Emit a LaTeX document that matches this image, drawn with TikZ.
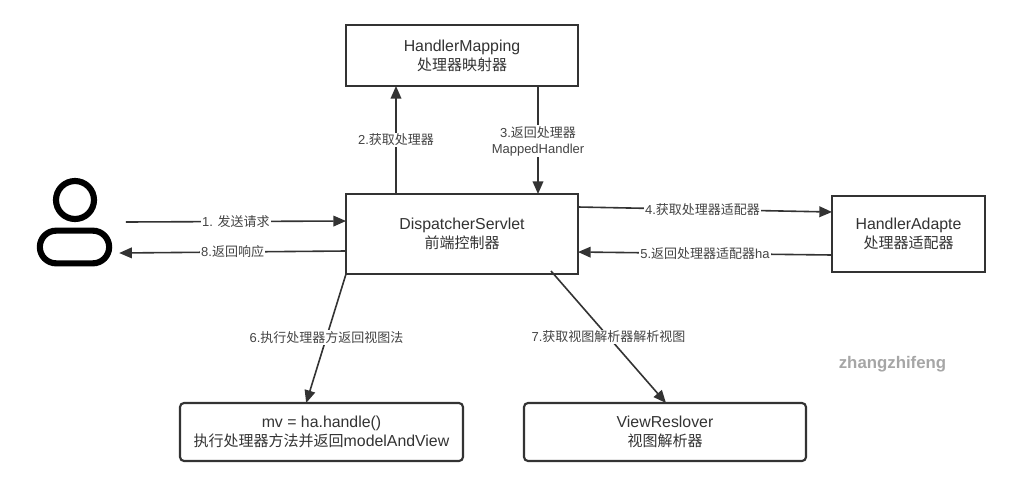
\documentclass[tikz,border=0pt]{standalone}
\usepackage{fontspec}
\usetikzlibrary{arrows.meta,shapes.misc}
\setmainfont{Liberation Sans}
\newfontfamily\cjk{Noto Sans CJK SC}
\newcommand{\boxcjk}[1]{{\cjk\fontsize{11.25}{14.2}\selectfont #1}}
\definecolor{ink}{HTML}{333333}
\definecolor{labelink}{HTML}{444444}
\definecolor{markgrey}{HTML}{A6A6A6}
\tikzset{
  box/.style={draw=ink,line width=1.6pt,fill=white,inner sep=0pt,outer sep=0pt,align=center,
    text=ink,font=\fontsize{11.9}{14.2}\selectfont},
  roundbox/.style={box,rounded corners=3pt},
  flow/.style={draw=ink,line width=1.2pt,-{Triangle[length=9.5pt,width=8pt]}},
  flowlabel/.style={fill=white,inner xsep=1pt,inner ysep=1pt,align=center,text=labelink,
    font=\fontsize{9.75}{12}\selectfont},
  figure/.style={draw=black,line width=4.6pt,inner sep=0pt,outer sep=0pt}
}
\begin{document}
\begin{tikzpicture}[x=0.75pt,y=-0.75pt]
\useasboundingbox (0,0) rectangle (1010,486);

% Processing stages
\node[box,minimum width=174pt,minimum height=45.75pt] (mapping) at (462,55.5)
  {HandlerMapping\\\boxcjk{处理器映射器}};
\node[box,minimum width=174pt,minimum height=60pt] (servlet) at (462,234)
  {DispatcherServlet\\\boxcjk{前端控制器}};
\node[box,minimum width=114.75pt,minimum height=57pt] (adapter) at (908.5,234)
  {HandlerAdapte\\\boxcjk{处理器适配器}};
\node[roundbox,minimum width=212.25pt,minimum height=43.5pt] (handle) at (321.5,432)
  {mv = ha.handle()\\\boxcjk{执行处理器方法并返回}modelAndView};
\node[roundbox,minimum width=211.5pt,minimum height=43.5pt] (resolver) at (665,432)
  {ViewReslover\\\boxcjk{视图解析器}};

% User figure
\node[figure,circle,minimum size=28.5pt] (head) at (75,200) {};
\node[figure,rounded rectangle,minimum width=52pt,minimum height=24.5pt] (body) at (74.5,247) {};

% Request flow
\draw[flow] ([shift={(12.5pt,18.75pt)}]body.east) -- node[flowlabel,pos=.5]{1. {\cjk 发送请求}} ([yshift=9.75pt]servlet.west);
\draw[flow] ([yshift=-12.75pt]servlet.west) -- node[flowlabel,pos=.5]{8.{\cjk 返回响应}} ([shift={(7.5pt,-4.5pt)}]body.east);
\draw[flow] ([xshift=-49.5pt]servlet.north) -- node[flowlabel,pos=.5]{2.{\cjk 获取处理器}} ([xshift=-49.5pt]mapping.south);
\draw[flow] ([xshift=57pt]mapping.south) -- node[flowlabel,pos=.51]{3.{\cjk 返回处理器}\\MappedHandler} ([xshift=57pt]servlet.north);
\draw[flow] ([yshift=-9.75pt]servlet.north east) -- node[flowlabel,pos=.49]{4.{\cjk 获取处理器适配器}} ([yshift=16.5pt]adapter.west);
\draw[flow] ([yshift=-15.75pt]adapter.west) -- node[flowlabel,pos=.5]{5.{\cjk 返回处理器适配器}ha} ([yshift=-13.5pt]servlet.east);
\draw[flow] (servlet.south west) -- node[flowlabel,pos=.49]{6.{\cjk 执行处理器方返回视图法}} ([xshift=-11.5pt]handle.north);
\draw[flow] ([shift={(66.75pt,2.25pt)}]servlet.south) -- node[flowlabel,pos=.5]{7.{\cjk 获取视图解析器解析视图}} ([xshift=0.75pt]resolver.north);

% Author mark
\node[text=markgrey,inner sep=0pt,font=\fontsize{12.6}{15}\selectfont\bfseries] (mark) at (892.5,364) {zhangzhifeng};
\end{tikzpicture}
\end{document}
